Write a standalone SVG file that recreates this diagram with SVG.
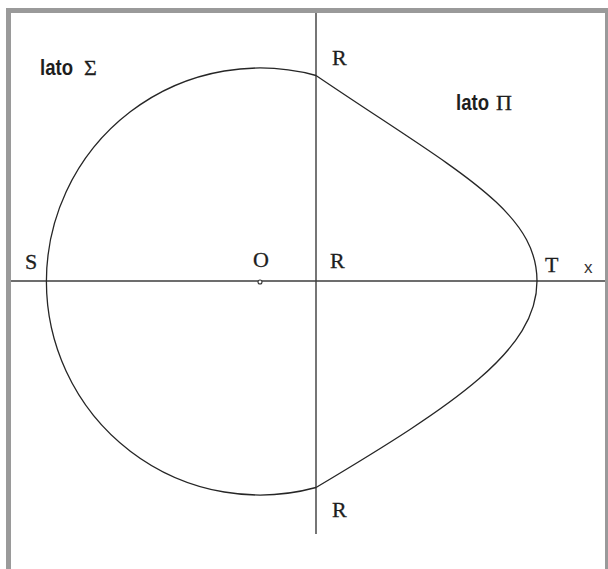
<svg xmlns="http://www.w3.org/2000/svg" width="608" height="569" viewBox="0 0 608 569">
  <style>
    .frame { fill: #9a9a9a; }
    .axis { stroke: #3c3c3c; stroke-width: 1.4; fill: none; }
    .curve { stroke: #262626; stroke-width: 1.3; fill: none; }
    .serif { font-family: "Liberation Serif", "Times New Roman", serif; font-size: 22px; fill: #1e1e1e; stroke: #1e1e1e; stroke-width: 0.3; }
    .lato { font-family: "Liberation Sans", Arial, sans-serif; font-weight: bold; font-size: 22px; fill: #1e1e1e; }
    .xlab { font-family: "Liberation Sans", Arial, sans-serif; font-size: 17px; fill: #333; }
  </style>
  <rect width="608" height="569" fill="#ffffff"/>
  <g id="frame">
    <rect class="frame" x="6" y="8" width="602" height="5"/>
    <rect class="frame" x="6" y="8" width="5" height="561"/>
    <rect class="frame" x="605" y="8" width="3" height="561"/>
  </g>
  <g id="axes">
    <line class="axis" x1="11" y1="281" x2="605" y2="281"/>
    <line class="axis" x1="316" y1="13" x2="316" y2="534"/>
  </g>
  <g id="curve">
    <path class="curve" d="M316,75.5 A213.5,213.5 0 1,0 316,487.5"/>
    <path class="curve" d="M316,75.5 C456,170.5 537,210 537,281 C537,350 456,404 316,487.5"/>
  </g>
  <g id="origin">
    <circle cx="260" cy="282" r="2" fill="#ffffff" stroke="#333" stroke-width="1.1"/>
  </g>
  <g id="labels">
    <text class="lato" x="40" y="75" textLength="33" lengthAdjust="spacingAndGlyphs">lato</text>
    <text class="serif" x="84" y="75">Σ</text>
    <text class="lato" x="456" y="110" textLength="33" lengthAdjust="spacingAndGlyphs">lato</text>
    <text class="serif" x="496" y="110">Π</text>
    <text class="serif" x="332" y="65">R</text>
    <text class="serif" x="330" y="268">R</text>
    <text class="serif" x="332" y="517">R</text>
    <text class="serif" x="25" y="269">S</text>
    <text class="serif" x="253" y="267">O</text>
    <text class="serif" x="545" y="272">T</text>
    <text class="xlab" x="584" y="273">x</text>
  </g>
</svg>
